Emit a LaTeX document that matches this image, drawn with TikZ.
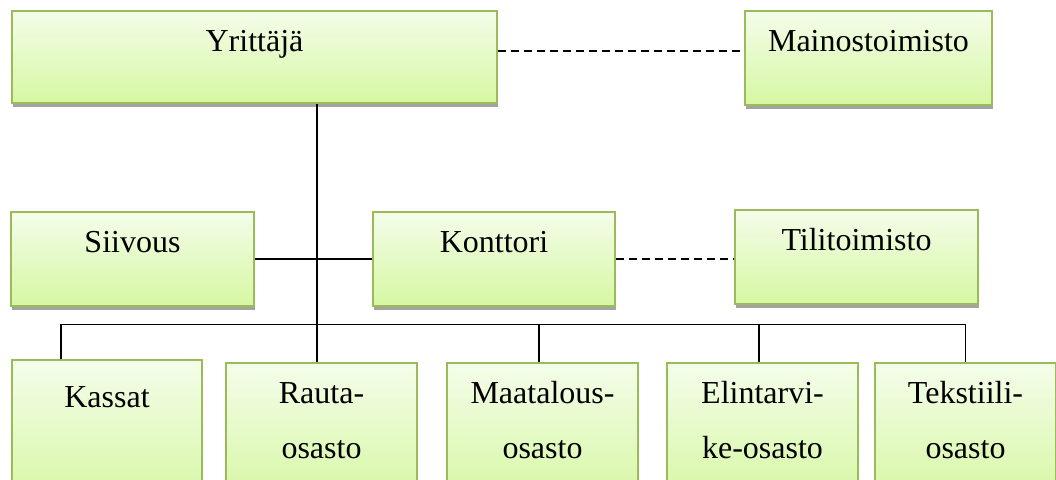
\documentclass[tikz,border=0pt]{standalone}
\usepackage{fontspec}
\setmainfont{Liberation Serif}
\usetikzlibrary{shadows}

\definecolor{boxedge}{HTML}{9BBB59}
\definecolor{boxtop}{HTML}{F4FDEA}
\definecolor{boxbottom}{HTML}{D6F7A2}
\definecolor{shadowgray}{HTML}{A3A3A3}

% two centred lines, baseline of the node on the first line
\newcommand\twoline[2]{\vtop{\baselineskip=55pt\halign{\hfil##\hfil\cr#1\cr#2\cr}}}

\tikzset{
  orgbox/.style={draw=boxedge, line width=2pt,
    top color=boxtop, bottom color=boxbottom,
    drop shadow={shadow xshift=1pt, shadow yshift=-4pt, fill=shadowgray, opacity=1},
    anchor=north west, inner xsep=0pt, inner ysep=0pt,
    text height=40pt,
    font=\fontsize{32}{38}\selectfont},
  conn/.style={line width=1.6pt, black},
  dashconn/.style={line width=1.6pt, black, dash pattern=on 8pt off 5pt},
}

\begin{document}
\begin{tikzpicture}[x=1pt, y=-1pt]
\useasboundingbox (0,0) rectangle (1056,479);
\clip (0,0) rectangle (1056,479);

% top row
\node[orgbox, minimum width=485pt, text depth=52pt] (yr) at (11,10) {Yrittäjä};
\node[orgbox, minimum width=247pt, text depth=54pt] (mai) at (744,10) {Mainostoimisto};

% middle row
\node[orgbox, minimum width=243pt, text depth=54pt] (sii) at (10,211) {Siivous};
\node[orgbox, minimum width=242pt, text depth=54pt] (kon) at (372,211) {Konttori};
\node[orgbox, minimum width=243pt, text depth=54pt] (til) at (734,209) {Tilitoimisto};

% departments
\node[orgbox, minimum width=190pt, text height=47pt, text depth=100pt] (kas) at (11,359) {Kassat};
\node[orgbox, minimum width=191pt, text depth=100pt] (rau) at (225,362) {\twoline{Rauta-}{osasto}};
\node[orgbox, minimum width=191pt, text depth=100pt] (maa) at (446,362) {\twoline{Maatalous-}{osasto}};
\node[orgbox, minimum width=191pt, text depth=100pt] (eli) at (666,362) {\twoline{Elintarvi-}{ke-osasto}};
\node[orgbox, minimum width=181pt, text depth=100pt] (tek) at (874,362) {\twoline{Tekstiili-}{osasto}};

% junction points of the main line
\coordinate (hub) at (317,259);
\coordinate (bus) at (317,324.5);

% connectors
\draw[dashconn] ([yshift=6pt]yr.east) -- ([yshift=6pt]yr.east -| mai.west);
\draw[conn] (yr.south -| hub) -- (rau.north -| hub);
\draw[conn] (sii.east) -- (kon.west);
\draw[dashconn] (kon.east) -- (kon.east -| til.west);
\draw[conn] ([xshift=-46pt]kas.north) |- (bus) -| (tek.north);
\draw[conn] ([xshift=-3.5pt]maa.north) -- ([xshift=-3.5pt]maa.north |- bus);
\draw[conn] ([xshift=-3.5pt]eli.north) -- ([xshift=-3.5pt]eli.north |- bus);
\end{tikzpicture}
\end{document}
